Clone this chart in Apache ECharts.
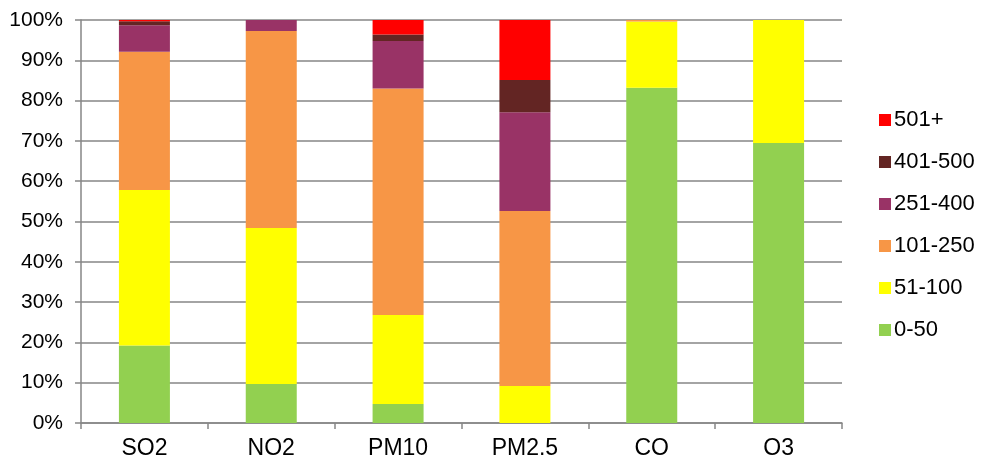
<!DOCTYPE html>
<html>
<head>
<meta charset="utf-8">
<script src="https://cdn.jsdelivr.net/npm/echarts@6/dist/echarts.min.js"></script>
<style>html,body{margin:0;padding:0;background:#fff;}#c{width:985px;height:464px;}</style>
</head>
<body>
<div id="c"></div>
<script>
var categories = ['SO2', 'NO2', 'PM10', 'PM2.5', 'CO', 'O3'];
var seriesNames = ['0-50', '51-100', '101-250', '251-400', '401-500', '501+'];
var v0_50    = [19.2,  9.7,  4.7,  0.0, 83.2, 69.5];
var v51_100  = [38.6, 38.7, 22.1,  9.2, 16.4, 30.5];
var v101_250 = [34.3, 48.9, 56.2, 43.4,  0.4,  0.0];
var v251_400 = [ 6.6,  2.7, 11.8, 24.5,  0.0,  0.0];
var v401_500 = [ 1.0,  0.0,  1.6,  8.0,  0.0,  0.0];
var v501p    = [ 0.3,  0.0,  3.6, 14.9,  0.0,  0.0];
var yTicks = [0, 10, 20, 30, 40, 50, 60, 70, 80, 90, 100];
var colors = ['#92D050', '#FFFF00', '#F79646', '#993366', '#632523', '#FF0000'];
var values = [v0_50, v51_100, v101_250, v251_400, v401_500, v501p];

var chart = echarts.init(document.getElementById('c'), null, {renderer: 'canvas'});
var font = 'Liberation Sans, Arial, sans-serif';
var series = seriesNames.map(function (n, i) {
  return {
    name: n, type: 'bar', stack: 'total', barWidth: 51,
    itemStyle: {color: colors[i]},
    data: values[i],
    animation: false
  };
});
chart.setOption({
  animation: false,
  grid: {left: 81, right: 143, top: 20, bottom: 41, containLabel: false},
  legend: {
    orient: 'vertical', left: 874, top: 104,
    data: seriesNames.slice().reverse(),
    icon: 'rect', itemWidth: 12, itemHeight: 12, itemGap: 20,
    textStyle: {fontFamily: font, fontSize: 22, color: '#000', padding: [0, 0, 0, -2]},
    selectedMode: false
  },
  xAxis: {
    type: 'category', data: categories,
    axisLine: {lineStyle: {color: '#868686', width: 1.5}},
    axisTick: {show: true, length: 6, lineStyle: {color: '#868686', width: 1.5}},
    axisLabel: {fontFamily: font, fontSize: 23, color: '#000', margin: 14}
  },
  yAxis: {
    type: 'value', min: 0, max: 100, interval: 10,
    axisLine: {show: true, lineStyle: {color: '#868686', width: 1.5}},
    axisTick: {show: true, length: 6, lineStyle: {color: '#868686', width: 1.5}},
    splitLine: {lineStyle: {color: '#868686', width: 1.5}},
    axisLabel: {fontFamily: font, fontSize: 21, color: '#000', margin: 18,
      formatter: function (v) { return yTicks.indexOf(v) >= 0 ? v + '%' : ''; }}
  },
  series: series
});
</script>
</body>
</html>
